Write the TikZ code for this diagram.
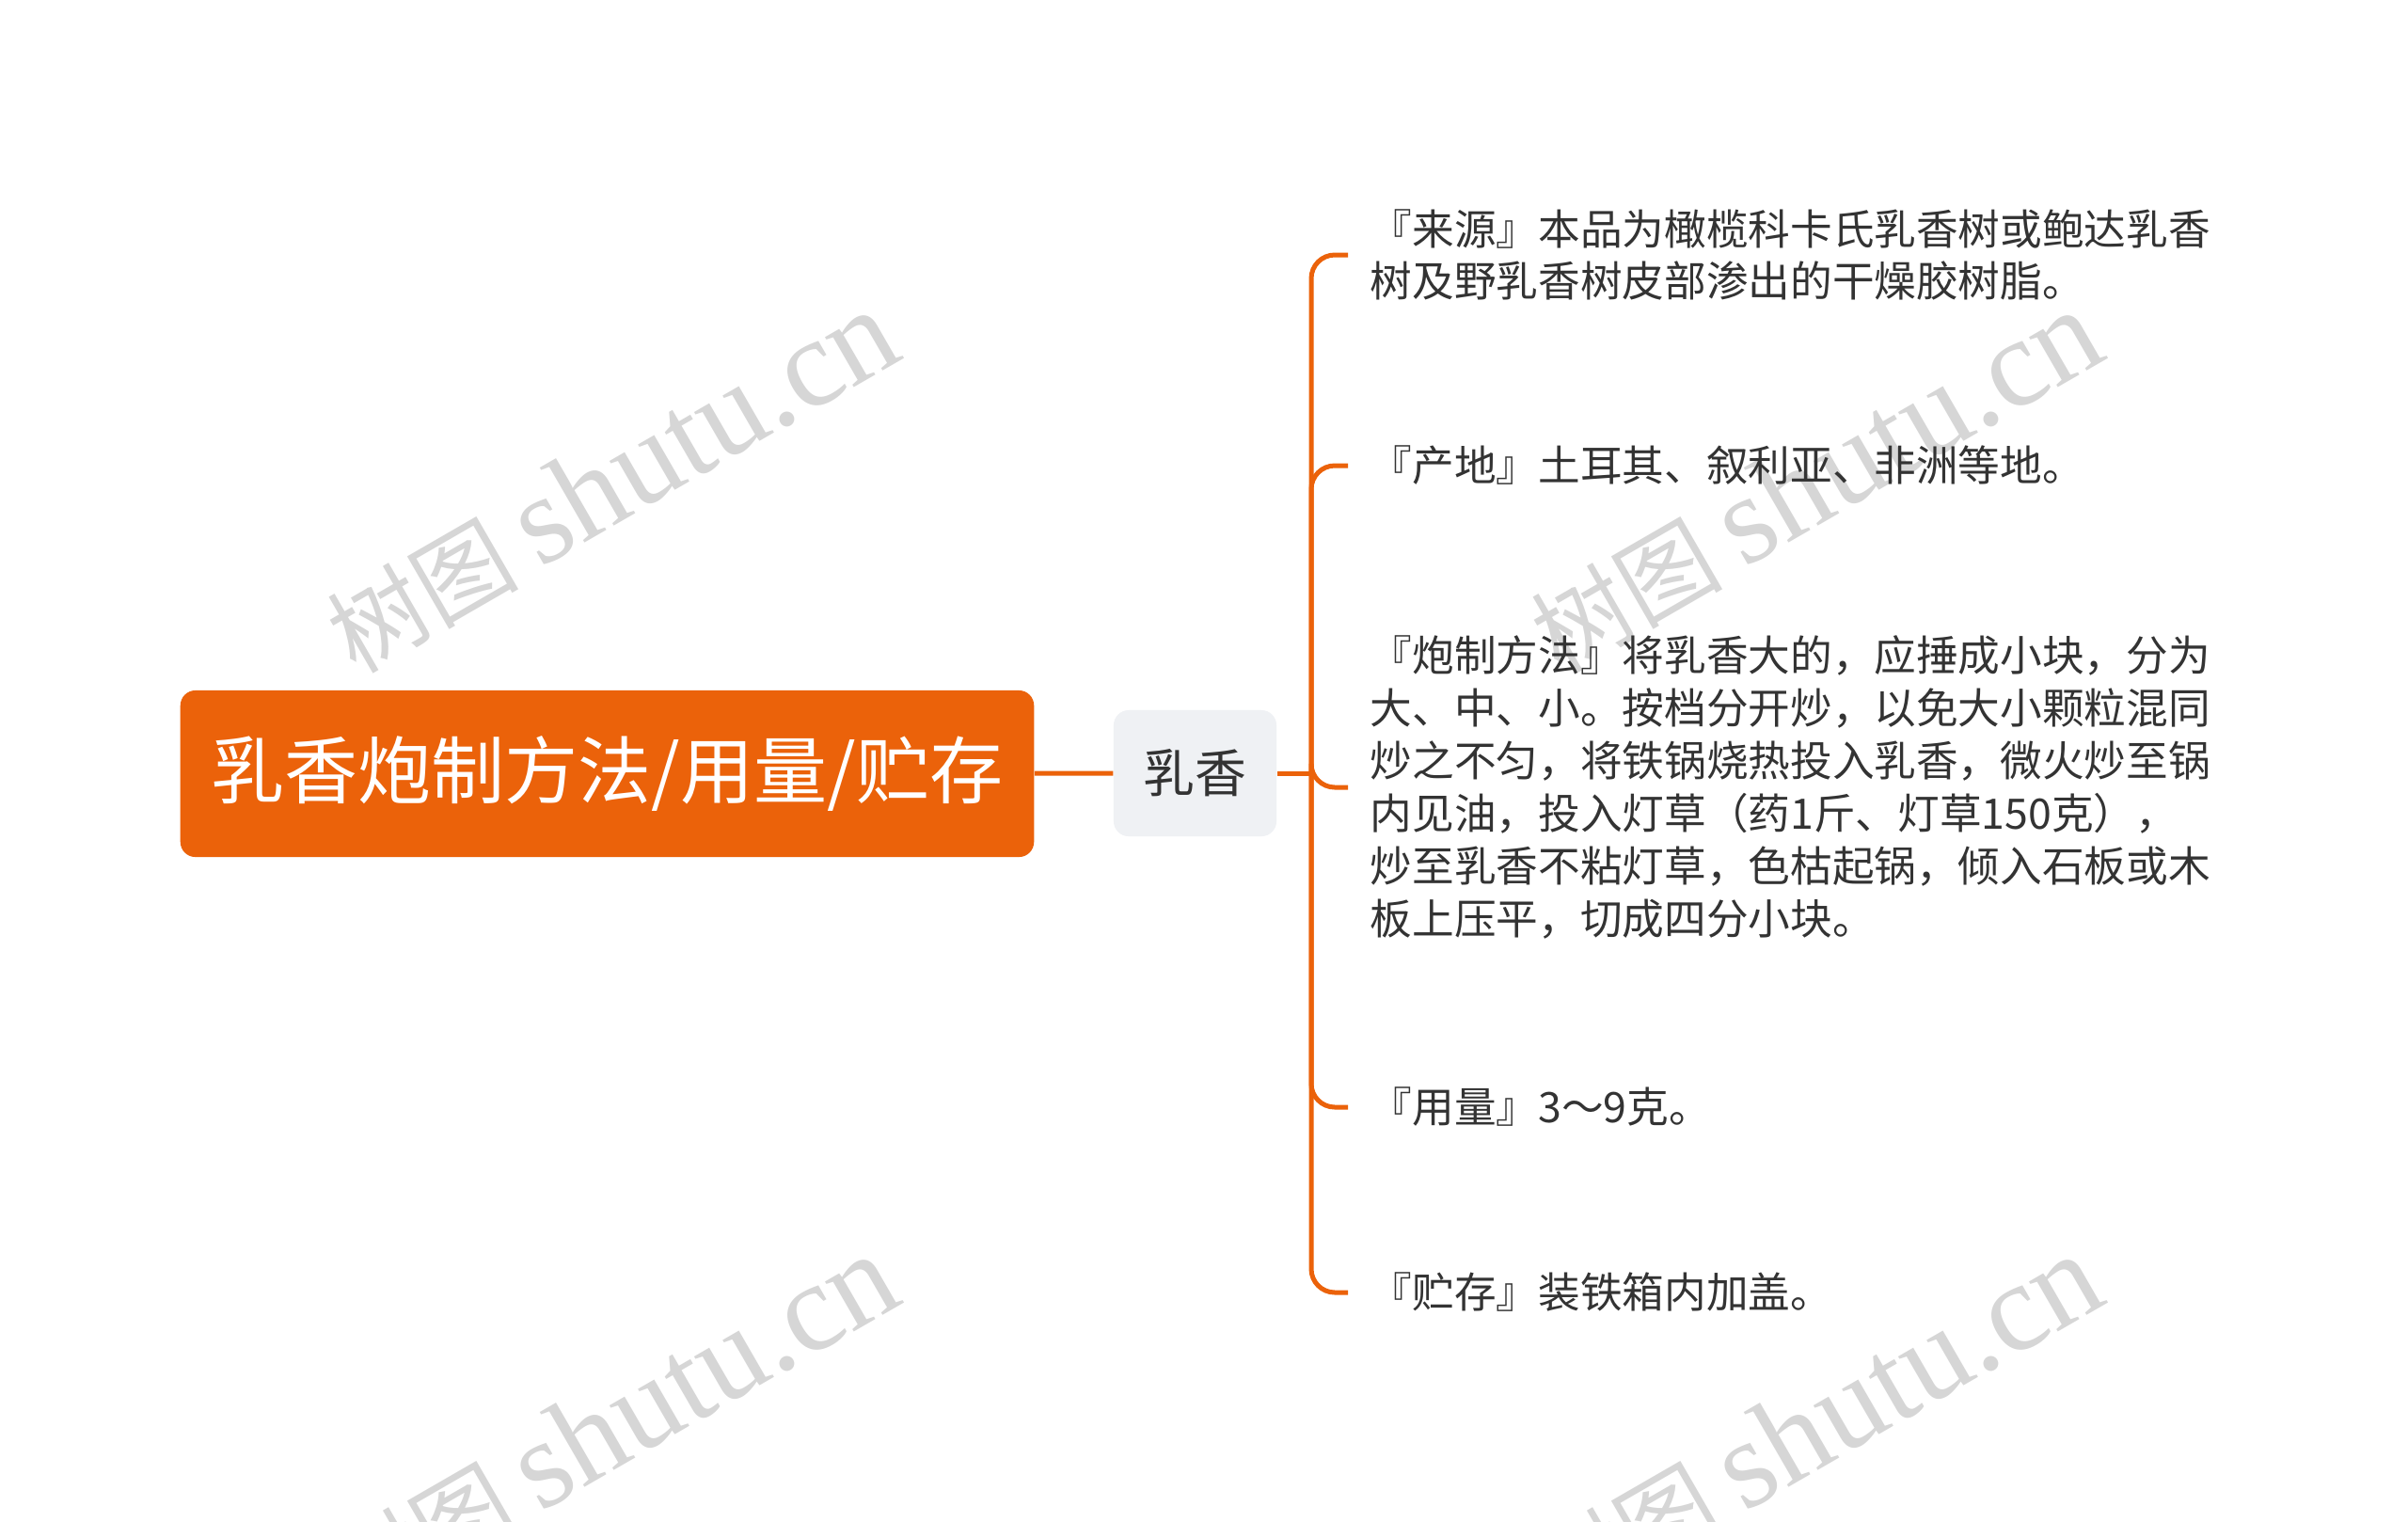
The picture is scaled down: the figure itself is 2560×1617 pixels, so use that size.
\documentclass[tikz,border=0pt]{standalone}
\usepackage{fontspec}
\setmainfont{Noto Sans CJK SC}
\newfontfamily\wmfont{Liberation Serif}
\definecolor{mainorange}{HTML}{EB620A}
\definecolor{subgray}{HTML}{EFF1F4}
\definecolor{txtgray}{HTML}{333333}
\definecolor{wmgray}{HTML}{D6D6D6}
\tikzset{
  rootbox/.style={fill=mainorange,rounded corners=0.16cm,minimum width=9.07cm,minimum height=1.77cm,inner sep=0pt,text=white,font=\fontsize{22.2pt}{26pt}\selectfont},
  subbox/.style={fill=subgray,rounded corners=0.16cm,minimum width=1.73cm,minimum height=1.34cm,inner sep=0pt,text=txtgray,font=\fontsize{15.6pt}{18pt}\selectfont},
  leaftext/.style={anchor=west,align=left,inner xsep=0.23cm,inner ysep=0pt,text=txtgray,font=\fontsize{12.7pt}{15.9pt}\selectfont},
  branch/.style={draw=mainorange,line width=0.05cm},
  wmark/.style={rotate=30,text=wmgray,font=\fontsize{29pt}{36pt}\selectfont}
}
\begin{document}
\begin{tikzpicture}[x=0.01cm,y=-0.01cm]

    \useasboundingbox[fill=white](0,0)rectangle(2560,1617);
    \foreach\X/\Y in{650/512,1930/512,650/1516,1930/1516}\node[wmark]at(\X,\Y){树图 {\wmfont\fontsize{38pt}{40pt}\selectfont shutu.cn}};

    \node[rootbox](root)at(645.5,822.5){乳香炮制方法/用量/贮存};
    \node[subbox](rx)at(1270.5,822){乳香};
    \coordinate(fork)at(1394,822);

    \node[leaftext](src)at(1433,271){『来源』本品为橄榄科卡氏乳香树或鲍达乳香\\树及野乳香树皮部渗出的干燥胶树脂。};
    \node[leaftext](org)at(1433,495){『产地』土耳其、叙利亚、非洲等地。};
    \node[leaftext](prep)at(1433,837){『炮制方法』将乳香大的，应捶成小块，分为\\大、中、小。按档分开炒，以免大小颗粒混同\\炒之不匀，将铁锅烧热投入乳香，微火炒至锅\\内见油，投入灯草（药1斤、灯草150克），\\炒至乳香不粘灯草，色枯起锅，倾入石板或木\\板上压平，切成四分小块。};
    \node[leaftext](dose)at(1433,1177){『用量』3～9克。};
    \node[leaftext](store)at(1433,1374){『贮存』装铁箱内加盖。};

    \draw[branch](root)--(rx);
    \draw[branch](rx)--(fork);
    \foreach\L in{src,org,prep,dose,store}\draw[branch,rounded corners=0.25cm](fork)|-(\L.west);
  \end{tikzpicture}
\end{document}
